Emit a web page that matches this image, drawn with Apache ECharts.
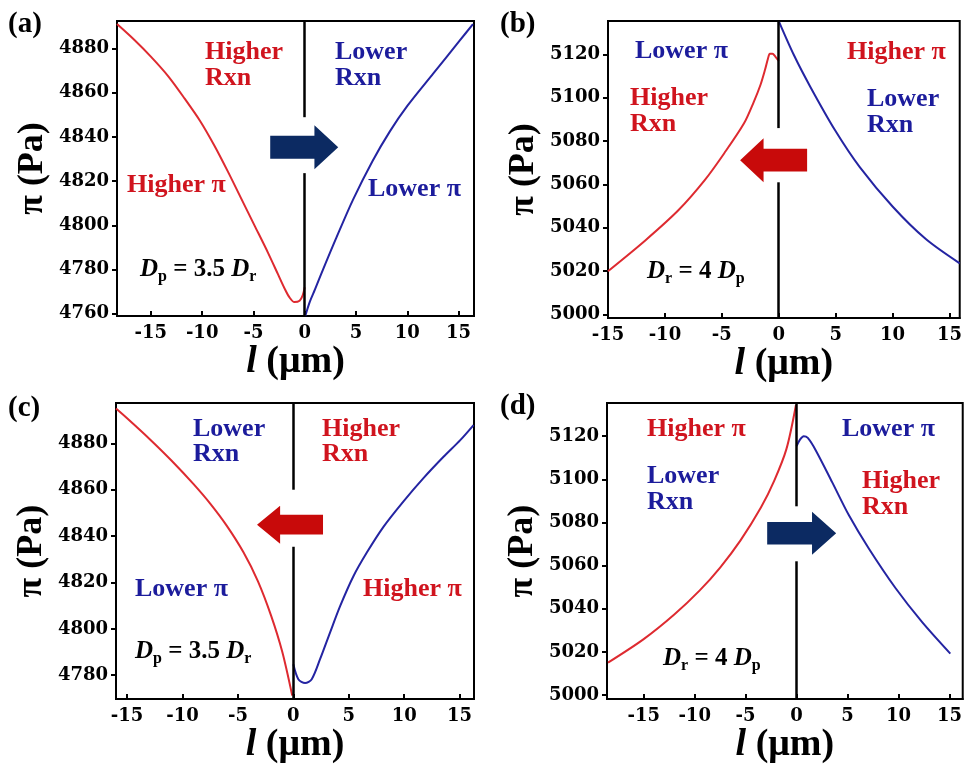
<!DOCTYPE html>
<html><head><meta charset="utf-8">
<script src="https://cdn.jsdelivr.net/npm/echarts@6/dist/echarts.min.js"></script>
<style>html,body{margin:0;padding:0;background:#fff}#c{width:965px;height:765px}</style>
</head><body><div id="c"></div>
<script>
// ---- tick labels ----
const xTicks = [-15, -10, -5, 0, 5, 10, 15];
const yTicksA = [4760, 4780, 4800, 4820, 4840, 4860, 4880];
const yTicksB = [5000, 5020, 5040, 5060, 5080, 5100, 5120];
const yTicksC = [4780, 4800, 4820, 4840, 4860, 4880];
const yTicksD = [5000, 5020, 5040, 5060, 5080, 5100, 5120];

// ---- series values [l (µm), π (Pa)] ----
const aRed = [[-18.3,4891],[-16.6,4883.8],[-15,4876.3],[-13.3,4867.4],[-11.7,4857.3],[-10.2,4847.2],[-8.8,4836],[-7.5,4824.4],[-6.2,4812.2],[-4.9,4800],[-3.6,4787.8],[-2.6,4777.8],[-2.0,4771.8],[-1.5,4767.5],[-1.0,4765.3],[-0.5,4765.9],[-0.2,4768.3],[0,4772]];
const aBlue = [[0.05,4759],[0.5,4765.5],[1,4771],[2,4782.5],[3,4793.5],[4.7,4811.5],[6.6,4829],[8.3,4842.5],[10,4854],[12.5,4868.5],[15.1,4883.5],[16.4,4891]];
const bRed = [[-15,5020],[-11.7,5034.3],[-8.8,5048.2],[-6.5,5062],[-4.8,5074.3],[-3.05,5088.2],[-2.2,5098],[-1.6,5106],[-1.2,5113],[-0.95,5118],[-0.78,5120.3],[-0.55,5120.3],[-0.3,5119],[0,5117]];
const bBlue = [[0.03,5135],[1.33,5119.7],[2.78,5105],[4.95,5085],[7.12,5068],[10.02,5049.7],[12.92,5034.8],[15.9,5023.6]];
const cRed = [[-16,4895],[-15,4890.8],[-13,4882],[-11,4872.6],[-9,4862.4],[-7.5,4854],[-6,4844.4],[-4.5,4833],[-3.2,4820.6],[-2,4805.6],[-1,4790.1],[-0.1,4771.2]];
const cBlue = [[0,4784.7],[0.45,4778.3],[1.06,4776.6],[1.66,4778.3],[2.41,4786.9],[3.31,4798.4],[4.22,4809.8],[5.42,4822.7],[6.63,4832.9],[8.13,4844],[9.94,4855],[11.74,4865],[13.55,4874.2],[15.06,4881.4],[16.26,4887.9]];
const dRed = [[-18.5,5015],[-15,5025.9],[-12,5037.3],[-9.5,5048.5],[-7.5,5059.1],[-5.5,5071.7],[-3.5,5086.9],[-2.2,5099.3],[-1.0,5114],[-0.06,5134.5]];
const dBlue = [[0,5115.4],[0.35,5118.5],[0.7,5120],[1.1,5119.2],[1.9,5113.3],[3.5,5098.6],[5.15,5083.2],[7.1,5067.8],[9.7,5049.6],[12.3,5033.9],[15.08,5019.2]];

// ---- axis extents ----
const xRanges = [[-18.3,16.5],[-15,15.9],[-16,16.3],[-18.6,16.3]];
const yRanges = [[4759,4892.4],[4998.4,5135.4],[4769.7,4897.4],[4998.1,5135.4]];
// vertical divider gaps (π values where line is interrupted by arrow)
const gaps = [[4823.6,4848.9],[5061,5086],[4835.4,4860],[5062,5087.5]];
// arrow centres [l, π] and direction
const arrowPos = [[-0.05,4835.3],[-0.45,5071.2],[-0.3,4844.9],[0.5,5075]];
const arrowDir = ['right','left','left','right'];
const arrowSize = [[68,44],[67,44],[66,38],[69,43]];

const RED = '#de2a30', BLUE = '#2424a2', TRED = '#d0141e', TBLUE = '#1c1c9c';
const NAVY = '#0c2a62', ARED = '#c80a0a';
const RIGHT = 'path://M0,24 L65,24 L65,0 L100,50 L65,100 L65,76 L0,76 Z';
const LEFT = 'path://M100,24 L35,24 L35,0 L0,50 L35,100 L35,76 L100,76 Z';

const grids = [
  {left:117, top:21, width:357, height:295},
  {left:608, top:21, width:355, height:297},
  {left:116, top:403, width:358, height:297},
  {left:607, top:403, width:356, height:297}
];
const yTicks = [yTicksA, yTicksB, yTicksC, yTicksD];
const reds = [aRed, bRed, cRed, dRed];
const blues = [aBlue, bBlue, cBlue, dBlue];

const tickFont = {fontFamily:'DejaVu Serif', fontWeight:'bold', fontSize:18, color:'#000'};
const xAxis = [], yAxis = [], series = [];
for (let i = 0; i < 4; i++) {
  grids[i].show = true; grids[i].borderColor = '#000'; grids[i].borderWidth = 2;
  xAxis.push({
    gridIndex:i, type:'value', min:xRanges[i][0], max:xRanges[i][1],
    axisLine:{show:true, onZero:false, lineStyle:{color:'#000', width:2}},
    axisTick:{show:true, inside:true, length:5, customValues:xTicks, lineStyle:{color:'#000', width:2}},
    axisLabel:Object.assign({customValues:xTicks, margin:8, formatter:v => String(v)}, tickFont),
    splitLine:{show:false},
    name:'{i|l} (μm)', nameLocation:'middle', nameGap:23,
    nameTextStyle:{fontFamily:'Liberation Serif', fontWeight:'bold', fontSize:38, color:'#000',
      rich:{i:{fontFamily:'Liberation Serif', fontWeight:'bold', fontStyle:'italic', fontSize:38, color:'#000'}}}
  });
  yAxis.push({
    gridIndex:i, type:'value', min:yRanges[i][0], max:yRanges[i][1],
    axisLine:{show:true, onZero:false, lineStyle:{color:'#000', width:2}},
    axisTick:{show:true, inside:false, length:5, customValues:yTicks[i], lineStyle:{color:'#000', width:2}},
    axisLabel:Object.assign({customValues:yTicks[i], margin:8, formatter:v => String(v)}, tickFont),
    splitLine:{show:false},
    name:'π (Pa)', nameLocation:'middle', nameGap:66,
    nameTextStyle:{fontFamily:'Liberation Serif', fontWeight:'bold', fontSize:36, color:'#000'}
  });
  const yr = yRanges[i], g = gaps[i];
  series.push({
    type:'line', xAxisIndex:i, yAxisIndex:i, data:reds[i], showSymbol:false,
    smooth:0.3, lineStyle:{color:RED, width:2}, itemStyle:{color:RED}, z:3,
    markLine:{silent:true, symbol:['none','none'], label:{show:false},
      lineStyle:{color:'#000', width:2.5, type:'solid'},
      data:[[{coord:[0,yr[0]]},{coord:[0,g[0]]}],[{coord:[0,g[1]]},{coord:[0,yr[1]]}]]}
  });
  series.push({
    type:'line', xAxisIndex:i, yAxisIndex:i, data:blues[i], showSymbol:false,
    smooth:0.3, lineStyle:{color:BLUE, width:2}, itemStyle:{color:BLUE}, z:3,
    markPoint:{silent:true, symbolKeepAspect:false, label:{show:false},
      data:[{coord:arrowPos[i], symbol:arrowDir[i]==='right'?RIGHT:LEFT, symbolSize:arrowSize[i],
        itemStyle:{color:arrowDir[i]==='right'?NAVY:ARED}}]}
  });
}

function txt(x, bl, s, fill) {
  return {type:'text', x:x, y:bl - 8.8, silent:true,
    style:{text:s, fill:fill, font:'bold 26px "Liberation Serif"', align:'left', verticalAlign:'middle'}};
}
function formula(x, bl, s) {
  return {type:'text', x:x, y:bl - 8, silent:true,
    style:{text:s, fill:'#000', align:'left', verticalAlign:'middle',
      font:'bold 25px "Liberation Serif"',
      rich:{
        D:{fontFamily:'Liberation Serif', fontWeight:'bold', fontStyle:'italic', fontSize:25, lineHeight:30, fill:'#000'},
        n:{fontFamily:'Liberation Serif', fontWeight:'bold', fontSize:25, lineHeight:30, fill:'#000'},
        s:{fontFamily:'Liberation Serif', fontWeight:'bold', fontSize:16, lineHeight:16, verticalAlign:'bottom', fill:'#000'}
      }}};
}
function panelLabel(x, y, s) {
  return {type:'text', x:x, y:y, silent:true,
    style:{text:s, fill:'#000', font:'bold 29px "Liberation Serif"', align:'left', verticalAlign:'middle'}};
}

const graphic = [
  panelLabel(8, 24.5, '(a)'), panelLabel(500, 25, '(b)'), panelLabel(8, 408.5, '(c)'), panelLabel(500, 407, '(d)'),
  // (a)
  txt(205, 61, 'Higher', TRED), txt(205, 87, 'Rxn', TRED),
  txt(335, 61, 'Lower', TBLUE), txt(335, 87, 'Rxn', TBLUE),
  txt(127, 194, 'Higher π', TRED), txt(368, 198, 'Lower π', TBLUE),
  formula(140, 278, '{D|D}{s|p}{n| = 3.5 }{D|D}{s|r}'),
  // (b)
  txt(635, 60, 'Lower π', TBLUE), txt(630, 107, 'Higher', TRED), txt(630, 133, 'Rxn', TRED),
  txt(847, 61, 'Higher π', TRED), txt(867, 108, 'Lower', TBLUE), txt(867, 134, 'Rxn', TBLUE),
  formula(647, 280, '{D|D}{s|r}{n| = 4 }{D|D}{s|p}'),
  // (c)
  txt(193, 438, 'Lower', TBLUE), txt(193, 463, 'Rxn', TBLUE),
  txt(322, 438, 'Higher', TRED), txt(322, 463, 'Rxn', TRED),
  txt(135, 598, 'Lower π', TBLUE), txt(363, 598, 'Higher π', TRED),
  formula(135, 660, '{D|D}{s|p}{n| = 3.5 }{D|D}{s|r}'),
  // (d)
  txt(647, 438, 'Higher π', TRED), txt(647, 485, 'Lower', TBLUE), txt(647, 511, 'Rxn', TBLUE),
  txt(842, 438, 'Lower π', TBLUE), txt(862, 490, 'Higher', TRED), txt(862, 516, 'Rxn', TRED),
  formula(663, 667, '{D|D}{s|r}{n| = 4 }{D|D}{s|p}')
];

const chart = echarts.init(document.getElementById('c'), null, {renderer:'canvas'});
chart.setOption({animation:false, backgroundColor:'#fff', grid:grids, xAxis:xAxis, yAxis:yAxis, series:series, graphic:graphic});
</script></body></html>
